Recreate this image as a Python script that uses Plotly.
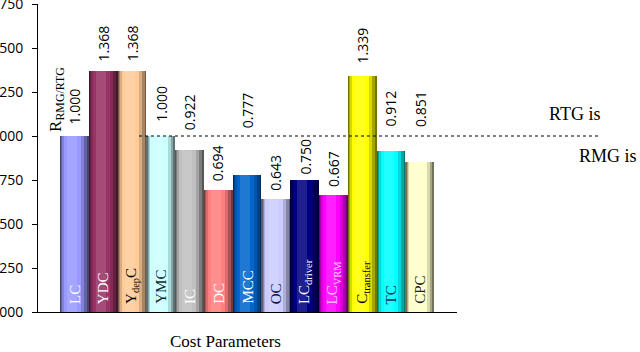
import plotly.graph_objects as go

# ---- data ----
categories = ["LC", "YDC", "YdepC", "YMC", "IC", "DC", "MCC", "OC",
              "LCdriver", "LCVRM", "Ctransfer", "TC", "CPC"]
bar_labels = ["LC", "YDC", "Y<sub>dep</sub>C", "YMC", "IC", "DC", "MCC", "OC",
              "LC<sub>driver</sub>", "LC<sub>VRM</sub>", "C<sub>transfer</sub>", "TC", "CPC"]
ratios = [1.000, 1.368, 1.368, 1.000, 0.922, 0.694, 0.777, 0.643,
          0.750, 0.667, 1.339, 0.912, 0.851]
y_ticks = [0, 0.25, 0.5, 0.75, 1.0, 1.25, 1.5, 1.75]
threshold = 1.0

# ---- styles ----
colors = ["#9999FF", "#993366", "#FFCC99", "#CCFFFF", "#C0C0C0", "#FF8080", "#0066CC",
          "#CCCCFF", "#000080", "#FF00FF", "#FFFF00", "#00FFFF", "#FFFFCC"]
label_colors = ["white", "white", "black", "#0b2b2b", "white", "white", "white",
                "#101040", "white", "#ffd0ff", "black", "#0b3050", "#202020"]
value_shift = [10, 8, 8, 12, 17, 7, 45, 6, 3, 6, 11, 23, 33]

SERIF = "Liberation Serif"
SANS = "Open Sans"


def shade(hexcol, f):
    h = hexcol.lstrip("#")
    r, g, b = int(h[0:2], 16), int(h[2:4], 16), int(h[4:6], 16)
    if f <= 1:
        r, g, b = r * f, g * f, b * f
    else:
        t = f - 1
        r, g, b = r + (255 - r) * t, g + (255 - g) * t, b + (255 - b) * t
    return "rgb(%d,%d,%d)" % (round(r), round(g), round(b))


fig = go.Figure()

# cylinder-like shading with overlaid bars
layers = [(1.0, 0.0, 0.45), (0.9, -0.01, 0.65), (0.76, -0.04, 0.85),
          (0.6, -0.06, 1.0), (0.34, -0.08, 1.12)]
for w, sh, f in layers:
    fig.add_trace(go.Bar(
        x=categories, y=ratios,
        width=[w] * len(categories),
        offset=[-w / 2 + sh] * len(categories),
        marker=dict(color=[shade(c, f) for c in colors], line=dict(width=0)),
        showlegend=False, hoverinfo="skip"))

annotations = []
for cat, lab, v, lc, s in zip(categories, bar_labels, ratios, label_colors, value_shift):
    annotations.append(dict(x=cat, y=v, xref="x", yref="y", text="%.3f" % v,
                            textangle=-90, showarrow=False, yanchor="bottom",
                            xanchor="center", yshift=s,
                            font=dict(family=SANS, size=14, color="black")))
    annotations.append(dict(x=cat, y=0, xref="x", yref="y", text=lab,
                            textangle=-90, showarrow=False, yanchor="bottom",
                            xanchor="center", yshift=6,
                            font=dict(family=SERIF, size=15, color=lc)))

annotations.append(dict(x=categories[0], y=threshold, xref="x", yref="y",
                        text="R<sub>RMG/RTG</sub>", textangle=-90, showarrow=False,
                        yanchor="bottom", xanchor="center", xshift=-18, yshift=2,
                        font=dict(family=SERIF, size=17, color="black")))
annotations.append(dict(x=1.215, y=threshold, xref="paper", yref="y", text="RTG is",
                        showarrow=False, xanchor="left", yanchor="middle", yshift=22,
                        font=dict(family=SERIF, size=18, color="black")))
annotations.append(dict(x=1.287, y=threshold, xref="paper", yref="y", text="RMG is",
                        showarrow=False, xanchor="left", yanchor="middle", yshift=-20,
                        font=dict(family=SERIF, size=18, color="black")))
annotations.append(dict(x=0.448, y=-0.095, xref="paper", yref="paper",
                        text="Cost Parameters", showarrow=False,
                        xanchor="center", yanchor="middle",
                        font=dict(family=SERIF, size=17, color="black")))

fig.add_shape(type="line", xref="paper", yref="y", x0=0.241, x1=1.339,
              y0=threshold, y1=threshold, layer="above",
              line=dict(color="black", width=1, dash="dot"))

fig.update_layout(
    width=640, height=352,
    margin=dict(l=38, r=183, t=4, b=40),
    barmode="overlay", bargap=0,
    plot_bgcolor="white", paper_bgcolor="white",
    annotations=annotations,
    xaxis=dict(type="category", range=[-1.265, 13.295], showticklabels=False,
               showline=True, linecolor="black", linewidth=1, ticks="",
               showgrid=False, zeroline=False, fixedrange=True),
    yaxis=dict(range=[0, 1.75], tickvals=y_ticks, tickformat=".3f",
               showline=True, linecolor="black", linewidth=1,
               ticks="outside", ticklen=5, tickcolor="black",
               showgrid=False, zeroline=False, ticklabelstandoff=6,
               ticklabeloverflow="allow",
               tickfont=dict(family=SANS, size=14, color="black"),
               automargin=False, fixedrange=True),
)

fig.write_html("out.html")
